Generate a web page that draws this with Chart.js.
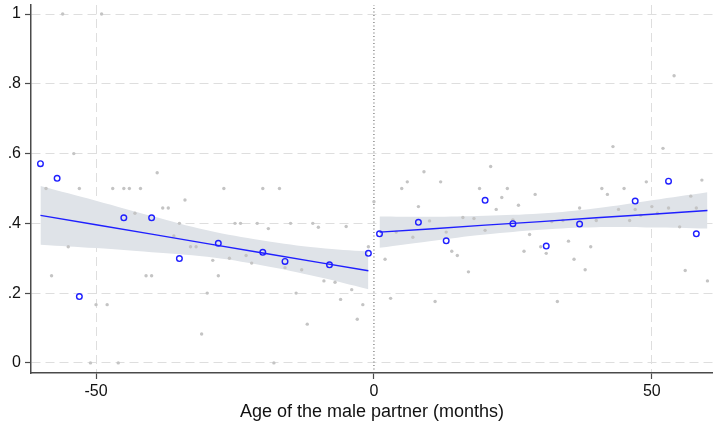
<!DOCTYPE html>
<html>
<head>
<meta charset="utf-8">
<script src="https://cdn.jsdelivr.net/npm/chart.js@4.4.1/dist/chart.umd.min.js"></script>
<style>
  html, body { margin: 0; padding: 0; background: #fff; }
  canvas { display: block; }
</style>
</head>
<body>
<canvas id="rdChart" width="713" height="426"></canvas>
<script>
// Raw monthly values (grey dots)
const rawX = [-59, -58, -56, -55, -54, -53, -51, -50, -49, -48, -47, -46, -45, -44, -43, -42, -41, -40, -39, -38,
  -37, -36, -35, -34, -33, -32, -31, -30, -29, -28, -27, -26, -25, -24, -23, -22, -21, -20, -19, -18,
  -17, -16, -15, -14, -13, -12, -11, -10, -9, -7, -6, -5, -4, -3, -2, -1, 0,
  2, 3, 4, 5, 6, 7, 8, 9, 10, 11, 12, 13, 14, 15, 16, 17, 18, 19, 20,
  21, 22, 23, 24, 25, 26, 27, 28, 29, 30, 31, 32, 33, 34, 35, 36, 37, 38, 39, 40,
  41, 42, 43, 44, 45, 46, 47, 48, 49, 50, 51, 52, 53, 54, 55, 56, 57, 58, 59, 60];
const rawY = [0.5, 0.25, 1, 0.333, 0.6, 0.5, 0, 0.167, 1, 0.167, 0.5, 0, 0.5, 0.5, 0.429, 0.5, 0.25, 0.25, 0.545, 0.444,
  0.444, 0.364, 0.4, 0.467, 0.333, 0.333, 0.083, 0.2, 0.294, 0.25, 0.5, 0.3, 0.4, 0.4, 0.308, 0.286, 0.4, 0.5, 0.385, 0,
  0.5, 0.273, 0.4, 0.2, 0.267, 0.111, 0.4, 0.389, 0.235, 0.231, 0.182, 0.391, 0.21, 0.125, 0.167, 0.333, 0.462,
  0.297, 0.185, 0.375, 0.5, 0.519, 0.36, 0.448, 0.548, 0.407, 0.176, 0.519, 0.375, 0.32, 0.308, 0.417, 0.261, 0.414, 0.5, 0.38,
  0.563, 0.44, 0.474, 0.5, 0.41, 0.452, 0.32, 0.368, 0.483, 0.333, 0.314, 0.405, 0.176, 0.408, 0.349, 0.297, 0.444, 0.267, 0.333, 0.408,
  0.5, 0.483, 0.62, 0.44, 0.5, 0.408, 0.44, 0.423, 0.519, 0.448, 0.429, 0.615, 0.444, 0.823, 0.39, 0.265, 0.478, 0.444, 0.524, 0.235];

// Binned means (blue hollow circles)
const binX = [-60, -57, -53, -45, -40, -35, -28, -20, -16, -8, -1, 1, 8, 13, 20, 25, 31, 37, 47, 53, 58];
const binY = [0.571, 0.529, 0.19, 0.416, 0.416, 0.299, 0.343, 0.317, 0.291, 0.281, 0.314,
  0.37, 0.403, 0.35, 0.466, 0.399, 0.335, 0.398, 0.464, 0.521, 0.37];

// Linear fits with confidence bands, left and right of the cutoff
const leftX = [-60, -50, -40, -30, -20, -10, -1];
const leftFit = [0.423, 0.396, 0.369, 0.342, 0.315, 0.288, 0.264];
const leftUpper = [0.507, 0.465, 0.421, 0.380, 0.351, 0.330, 0.319];
const leftLower = [0.339, 0.329, 0.317, 0.304, 0.279, 0.246, 0.211];

const rightX = [1, 10, 20, 30, 40, 50, 60];
const rightFit = [0.375, 0.384, 0.395, 0.405, 0.416, 0.426, 0.437];
const rightUpper = [0.420, 0.419, 0.422, 0.428, 0.443, 0.466, 0.489];
const rightLower = [0.330, 0.349, 0.368, 0.382, 0.389, 0.388, 0.385];

const xTicks = [-50, 0, 50];
const yTicks = [0, 0.2, 0.4, 0.6, 0.8, 1];
const yTickLabels = ['0', '.2', '.4', '.6', '.8', '1'];
const xTitle = 'Age of the male partner (months)';

const X_MIN = -61.7, X_MAX = 61;
const Y_MIN = -0.029, Y_MAX = 1.026;

const FONT = "'Liberation Sans', Arial, Helvetica, sans-serif";
const BLUE = '#1f1fff';
const BAND = '#dfe3e8';
const AXIS = '#4a4a4a';
const GRID = '#dedede';

const pts = (xs, ys) => xs.map((x, i) => ({ x: x, y: ys[i] }));

function bandSet(xs, ys, fill) {
  return {
    type: 'line',
    data: pts(xs, ys),
    borderWidth: 0,
    borderColor: 'rgba(0,0,0,0)',
    backgroundColor: BAND,
    pointRadius: 0,
    tension: 0.4,
    fill: fill,
    order: 10
  };
}

function fitSet(xs, ys) {
  return {
    type: 'line',
    data: pts(xs, ys),
    borderColor: BLUE,
    borderWidth: 1.4,
    pointRadius: 0,
    fill: false,
    order: 3
  };
}

// stop Chart.js from reserving room for edge labels
function noPadding(axis) {
  axis.paddingLeft = 0;
  axis.paddingRight = 0;
  axis.paddingTop = 0;
  axis.paddingBottom = 0;
}

const ctx = document.getElementById('rdChart');

new Chart(ctx, {
  type: 'scatter',
  data: {
    datasets: [
      bandSet(leftX, leftUpper, '+1'),
      bandSet(leftX, leftLower, false),
      bandSet(rightX, rightUpper, '+1'),
      bandSet(rightX, rightLower, false),
      {
        // cutoff reference line at 0
        type: 'line',
        data: [{ x: 0, y: Y_MIN }, { x: 0, y: Y_MAX }],
        borderColor: '#555',
        borderWidth: 1,
        borderDash: [1, 2.5],
        pointRadius: 0,
        fill: false,
        order: 6
      },
      {
        data: pts(rawX, rawY),
        pointRadius: 1.7,
        pointBorderWidth: 0,
        backgroundColor: '#c4c4c4',
        borderColor: '#c4c4c4',
        order: 5
      },
      fitSet(leftX, leftFit),
      fitSet(rightX, rightFit),
      {
        data: pts(binX, binY),
        pointRadius: 2.8,
        pointBorderWidth: 1.4,
        borderColor: BLUE,
        backgroundColor: 'rgba(0,0,0,0)',
        order: 1
      }
    ]
  },
  options: {
    responsive: false,
    animation: false,
    layout: { autoPadding: false, padding: { top: 5, right: 0, bottom: 0, left: 0 } },
    plugins: {
      legend: { display: false },
      tooltip: { enabled: false }
    },
    scales: {
      x: {
        type: 'linear',
        min: X_MIN,
        max: X_MAX,
        afterBuildTicks: axis => { axis.ticks = xTicks.map(v => ({ value: v })); },
        afterFit: axis => { axis.height = 53; noPadding(axis); },
        border: { display: true, color: AXIS, width: 1.5, dash: [9, 5] },
        grid: {
          color: c => (c.tick && c.tick.value === 0 ? 'rgba(0,0,0,0)' : GRID),
          lineWidth: 1,
          drawTicks: true,
          tickLength: 6,
          tickColor: AXIS,
          tickWidth: 1.2,
          tickBorderDash: []
        },
        ticks: {
          color: '#111',
          font: { family: FONT, size: 16 },
          padding: 3,
          maxRotation: 0,
          callback: v => String(v)
        },
        title: {
          display: true,
          text: xTitle,
          color: '#111',
          font: { family: FONT, size: 18 },
          padding: { top: 0, bottom: 3 }
        }
      },
      y: {
        type: 'linear',
        min: Y_MIN,
        max: Y_MAX,
        afterBuildTicks: axis => { axis.ticks = yTicks.map(v => ({ value: v })); },
        afterFit: axis => { axis.width = 31; noPadding(axis); },
        border: { display: true, color: AXIS, width: 1.5, dash: [9, 5] },
        grid: {
          color: GRID,
          lineWidth: 1,
          drawTicks: true,
          tickLength: 6,
          tickColor: AXIS,
          tickWidth: 1.2,
          tickBorderDash: []
        },
        ticks: {
          color: '#111',
          font: { family: FONT, size: 16 },
          padding: 4,
          callback: v => {
            const i = yTicks.indexOf(v);
            return i >= 0 ? yTickLabels[i] : '';
          }
        }
      }
    }
  }
});
</script>
</body>
</html>
